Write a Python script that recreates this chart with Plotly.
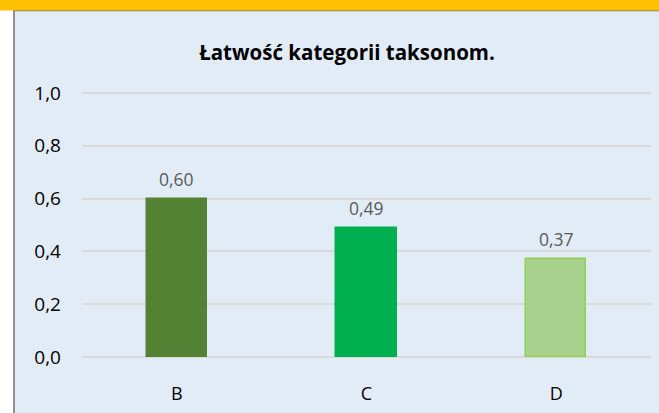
import plotly.graph_objects as go

categories = ["B", "C", "D"]
values = [0.60, 0.49, 0.37]
fill_colors = ["#548235", "#00B050", "#A9D18E"]
line_colors = ["#548235", "#00B050", "#92D050"]
title_text = "Łatwość kategorii taksonom."

W, H = 659, 413
ml, mr, mt, mb = 82, 8, 92, 53
pw = W - ml - mr
ph = H - mt - mb

def px_x(x):
    return (x - ml) / pw

def px_y(y):
    return (H - mb - y) / ph

font = "Open Sans"

fig = go.Figure()
fig.add_trace(go.Bar(
    x=categories, y=values,
    marker=dict(color=fill_colors, line=dict(color=line_colors, width=1.5)),
    width=0.317,
    hoverinfo="x+y",
))

for c, v in zip(categories, values):
    fig.add_annotation(x=c, y=v, text=f"{v:.2f}".replace(".", ","),
                       showarrow=False, yanchor="middle", yshift=20,
                       font=dict(family=font, size=17.5, color="#595959"))

fig.update_layout(
    width=W, height=H,
    margin=dict(l=ml, r=mr, t=mt, b=mb),
    paper_bgcolor="white",
    plot_bgcolor="rgba(0,0,0,0)",
    separators=", ",
    showlegend=False,
    bargap=0,
    title=dict(text="<b>" + title_text + "</b>", x=347 / W, xanchor="center",
               y=1 - 53 / H, yanchor="middle", yref="container",
               font=dict(family=font, size=20.5, color="black")),
    xaxis=dict(showgrid=False, showline=False, zeroline=False, ticks="",
               ticklabelstandoff=23,
               tickfont=dict(family=font, size=18, color="black")),
    yaxis=dict(range=[-0.004, 1.004], dtick=0.2, tickformat=".1f", showgrid=True,
               gridcolor="#D9D9D9", gridwidth=1.5, zeroline=False, showline=False,
               ticks="", ticklabelstandoff=20,
               tickfont=dict(family=font, size=19, color="black")),
    shapes=[
        dict(type="rect", xref="paper", yref="paper", layer="below",
             x0=px_x(14), x1=px_x(W + 5), y0=px_y(H + 5), y1=px_y(10),
             fillcolor="#E2ECF7", line=dict(color="#6F6F6F", width=1.5)),
        dict(type="rect", xref="paper", yref="paper", layer="below",
             x0=px_x(-5), x1=px_x(W + 5), y0=px_y(10), y1=px_y(-5),
             fillcolor="#FFC000", line=dict(width=0)),
    ],
)

fig.write_html("out.html", config={"displayModeBar": False},
               post_script="document.body.style.margin='0';document.body.style.overflow='hidden';")
